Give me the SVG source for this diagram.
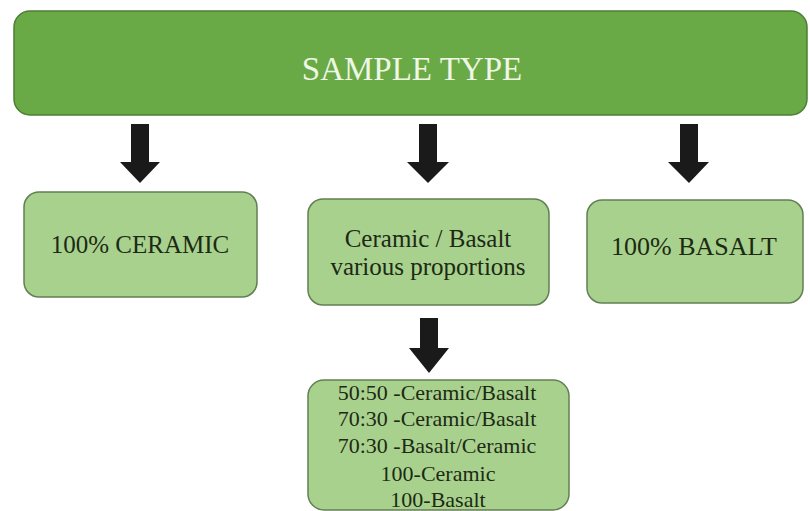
<svg xmlns="http://www.w3.org/2000/svg" width="810" height="511" viewBox="0 0 810 511">
<style>
.top{fill:#6aaa46;stroke:#4e7d36;stroke-width:1.5}
.box{fill:#a9d18e;stroke:#617f52;stroke-width:1.5}
text{font-family:'Liberation Serif','Times New Roman','DejaVu Serif',serif;text-anchor:middle}
.ttl{font-size:33px;fill:#eef6e4}
.lbl{font-size:25px;fill:#1c2a14}
.sm{font-size:22px;fill:#1c2a14}
.arr{fill:#1a1a1a}
</style>
<rect width="810" height="511" fill="#ffffff"/>
<g id="sample-type">
<rect class="top" x="14" y="11" width="793" height="104" rx="16"/>
<text class="ttl" x="412" y="80">SAMPLE TYPE</text>
</g>
<g id="connectors">
<path class="arr" d="M131,124 H149 V162 H160 L140,183 L120,162 H131 Z"/>
<path class="arr" d="M419,124 H437 V162 H449 L428,183 L407,162 H419 Z"/>
<path class="arr" d="M680,124 H698 V162 H709 L689,183 L668,162 H680 Z"/>
<path class="arr" d="M420,318 H438 V348 H449 L429,373 L409,348 H420 Z"/>
</g>
<g id="ceramic">
<rect class="box" x="24" y="192" width="233" height="105" rx="15"/>
<text class="lbl" x="140" y="253">100% CERAMIC</text>
</g>
<g id="mixed">
<rect class="box" x="308" y="199" width="241" height="106" rx="15"/>
<text class="lbl" x="428" y="247">Ceramic / Basalt</text>
<text class="lbl" x="428" y="275">various proportions</text>
</g>
<g id="basalt">
<rect class="box" x="587" y="200" width="216" height="103" rx="15"/>
<text class="lbl" x="694" y="255" style="font-size:26px">100% BASALT</text>
</g>
<g id="proportions">
<rect class="box" x="308" y="380" width="261" height="130" rx="16"/>
<text class="sm" x="437" y="400">50:50 -Ceramic/Basalt</text>
<text class="sm" x="437" y="426">70:30 -Ceramic/Basalt</text>
<text class="sm" x="437" y="453">70:30 -Basalt/Ceramic</text>
<text class="sm" x="438" y="481">100-Ceramic</text>
<text class="sm" x="438" y="507">100-Basalt</text>
</g>
</svg>
